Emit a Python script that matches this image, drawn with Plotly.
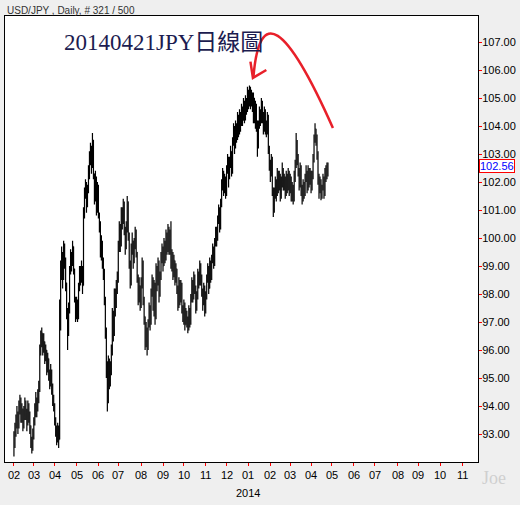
import plotly.graph_objects as go

# USD/JPY daily, trading-day index 0 = 2013-02-01
closes = [
    92.7, 93.0, 93.4, 93.7, 93.3, 93.9, 94.2, 93.7, 93.9, 93.4,
    93.6, 94.1, 93.8, 93.4, 94.0, 93.7, 93.3, 92.8, 92.5, 92.9,
    93.4, 93.8, 94.2, 93.9, 94.3, 94.6, 95.9, 96.4, 96.6, 96.1,
    96.3, 95.8, 96.0, 95.4, 95.7, 95.1, 94.8, 95.2, 94.6, 94.2,
    94.0, 93.5, 93.2, 92.9, 93.1, 92.8, 96.8, 98.9, 99.4, 98.6,
    99.6, 99.2, 98.4, 97.3, 96.6, 97.4, 98.8, 99.4, 99.1, 99.7,
    98.9, 97.8, 97.3, 97.6, 97.2, 98.2, 98.8, 98.6, 98.9, 98.3,
    100.9, 101.6, 101.9, 101.2, 101.7, 102.3, 102.9, 103.2, 102.6, 103.5,
    102.3, 101.5, 102.1, 101.0, 101.8, 100.9, 100.4, 99.5, 99.8, 99.1,
    98.7, 97.8, 96.6, 95.3, 94.2, 95.5, 94.8, 95.3, 95.9, 97.2,
    96.6, 97.9, 97.6, 98.2, 98.5, 99.7, 100.4, 99.8, 100.9, 100.6,
    101.2, 100.3, 99.7, 100.4, 101.3, 100.1, 99.1, 98.5, 99.6, 99.9,
    99.2, 99.8, 100.2, 99.5, 98.6, 97.9, 98.3, 97.6, 98.4, 99.1,
    97.8, 97.2, 96.3, 96.7, 96.1, 96.9, 97.5, 97.0, 98.0, 98.5,
    97.6, 98.3, 97.2, 98.9, 98.4, 99.1, 98.0, 98.6, 99.3, 99.6,
    99.0, 99.8, 99.3, 100.1, 99.6, 100.3, 99.5, 100.0, 99.1, 99.4,
    98.7, 99.2, 98.5, 98.9, 98.2, 97.6, 98.4, 97.8, 98.3, 97.5,
    97.2, 97.6, 96.9, 97.3, 97.1, 96.8, 97.4, 97.0, 97.8, 98.4,
    97.9, 98.6, 98.2, 97.6, 97.9, 98.7, 98.4, 99.0, 98.6, 98.1,
    97.7, 98.2, 97.5, 97.9, 98.5, 98.9, 98.2, 99.1, 98.6, 99.2,
    99.6, 99.1, 99.8, 100.2, 100.0, 100.6, 101.0, 100.4, 101.2, 101.9,
    102.3, 101.8, 102.1, 101.6, 102.4, 102.8, 102.2, 102.7, 103.1, 102.4,
    103.4, 103.9, 103.3, 104.0, 103.6, 104.3, 103.8, 104.4, 104.1, 104.6,
    104.2, 104.8, 104.3, 104.9, 104.6, 105.2, 104.9, 105.3, 104.8, 105.1,
    104.7, 105.0, 104.3, 104.7, 104.1, 103.3, 104.0, 104.5, 104.2, 104.8,
    104.4, 103.9, 104.5, 104.0, 103.8, 104.3, 103.2, 102.6, 102.3, 102.8,
    101.7, 101.1, 101.5, 102.0, 101.6, 102.3, 101.8, 102.2, 101.5, 102.0,
    102.4, 101.9, 102.1, 101.6, 102.2, 101.8, 102.3, 101.7, 102.1, 101.5,
    101.8, 101.4, 102.2, 102.6, 103.3, 102.9, 102.4, 101.9, 102.5, 101.7,
    101.4, 101.9, 101.6, 102.1, 102.3, 101.8, 102.4, 102.0, 102.3, 101.8,
    102.2, 102.8, 103.5, 103.9, 103.6, 103.0, 102.2, 101.7, 102.0, 101.5,
    101.8, 102.1, 101.6, 102.3, 102.2, 102.5, 102.56,
]
highs = [
    93.1, 93.4, 93.7, 94.0, 93.8, 94.2, 94.4, 94.3, 94.1, 93.9,
    94.0, 94.3, 94.2, 93.9, 94.2, 94.1, 93.8, 93.3, 92.9, 93.2,
    93.6, 94.1, 94.5, 94.3, 94.6, 94.9, 96.2, 96.7, 96.8, 96.6,
    96.6, 96.3, 96.2, 95.9, 95.9, 95.7, 95.3, 95.5, 95.3, 94.8,
    94.4, 94.1, 93.6, 93.3, 93.4, 93.3, 97.8, 99.2, 99.7, 99.5,
    99.9, 99.8, 99.3, 98.4, 97.5, 97.7, 99.0, 99.6, 99.5, 99.9,
    99.7, 98.9, 97.9, 97.9, 97.8, 98.4, 99.0, 99.0, 99.2, 99.0,
    101.1, 101.8, 102.1, 102.0, 101.9, 102.6, 103.1, 103.4, 103.3, 103.75,
    103.4, 102.3, 102.4, 102.2, 102.0, 101.9, 100.9, 100.6, 100.1, 99.9,
    99.3, 98.9, 97.9, 96.8, 95.6, 95.8, 95.7, 95.6, 96.2, 97.5,
    97.4, 98.2, 98.2, 98.5, 98.8, 99.9, 100.6, 100.5, 101.1, 101.1,
    101.4, 101.3, 100.4, 100.6, 101.5, 101.3, 100.2, 99.2, 99.8, 100.2,
    99.9, 100.0, 100.4, 100.3, 99.5, 98.7, 98.6, 98.3, 98.6, 99.3,
    99.2, 97.9, 97.2, 97.0, 96.8, 97.1, 97.7, 97.6, 98.2, 98.7,
    98.6, 98.5, 98.4, 99.1, 99.0, 99.3, 99.2, 98.8, 99.5, 99.8,
    99.7, 100.0, 99.9, 100.3, 100.2, 100.5, 100.4, 100.3, 100.6, 99.6,
    99.5, 99.4, 99.2, 99.1, 98.9, 98.3, 98.6, 98.5, 98.5, 98.4,
    97.6, 97.8, 97.7, 97.5, 97.4, 97.2, 97.6, 97.5, 98.0, 98.6,
    98.5, 98.8, 98.7, 98.3, 98.1, 98.9, 98.8, 99.2, 99.1, 98.7,
    98.2, 98.4, 98.3, 98.1, 98.7, 99.1, 99.0, 99.3, 99.2, 99.4,
    99.8, 99.7, 100.0, 100.4, 100.4, 100.8, 101.2, 101.1, 101.4, 102.1,
    102.5, 102.4, 102.3, 102.2, 102.6, 103.0, 102.9, 102.9, 103.3, 103.1,
    103.6, 104.1, 104.0, 104.2, 104.1, 104.5, 104.4, 104.6, 104.5, 104.8,
    104.7, 105.0, 104.9, 105.1, 105.0, 105.4, 105.3, 105.45, 105.4, 105.3,
    105.2, 105.2, 105.0, 104.9, 104.8, 104.2, 104.2, 104.7, 104.6, 105.0,
    104.9, 104.5, 104.7, 104.6, 104.2, 104.5, 104.4, 103.3, 102.8, 103.0,
    102.9, 101.8, 101.8, 102.2, 102.1, 102.5, 102.4, 102.4, 102.3, 102.2,
    102.7, 102.5, 102.3, 102.2, 102.4, 102.3, 102.5, 102.4, 102.3, 102.2,
    102.0, 101.9, 102.4, 102.8, 103.75, 103.5, 103.0, 102.5, 102.7, 102.6,
    101.9, 102.1, 102.0, 102.3, 102.6, 102.4, 102.6, 102.5, 102.5, 102.4,
    102.4, 103.0, 103.7, 104.1, 103.9, 103.7, 103.1, 102.3, 102.2, 102.1,
    101.9, 102.3, 102.2, 102.5, 102.6, 102.7, 102.7,
]
lows = [
    92.2, 92.5, 92.9, 93.2, 93.0, 93.2, 93.7, 93.4, 93.4, 93.1,
    93.2, 93.5, 93.5, 93.1, 93.3, 93.4, 93.0, 92.5, 92.3, 92.4,
    92.8, 93.3, 93.6, 93.6, 93.8, 94.1, 94.5, 95.8, 96.1, 95.8,
    95.9, 95.5, 95.6, 95.1, 95.2, 94.9, 94.6, 94.7, 94.4, 94.0,
    93.8, 93.3, 92.9, 92.6, 92.7, 92.5, 92.8, 96.7, 98.5, 98.2,
    98.5, 98.9, 98.1, 97.1, 96.0, 96.5, 97.3, 98.7, 98.8, 99.0,
    98.7, 97.7, 97.0, 97.1, 97.0, 97.1, 98.1, 98.3, 98.4, 98.0,
    99.1, 100.7, 101.4, 100.9, 101.1, 101.6, 102.1, 102.6, 102.3, 102.5,
    102.1, 101.2, 101.3, 100.8, 100.9, 100.7, 100.2, 99.3, 99.2, 98.9,
    98.5, 97.6, 96.4, 95.0, 93.8, 94.1, 94.6, 94.7, 95.1, 95.8,
    96.3, 96.5, 97.2, 97.5, 98.0, 98.4, 99.5, 99.5, 99.7, 100.3,
    100.5, 100.1, 99.4, 99.6, 100.2, 99.9, 98.9, 98.2, 98.3, 99.4,
    98.9, 99.1, 99.6, 99.3, 98.4, 97.6, 97.7, 97.4, 97.5, 98.2,
    97.6, 96.9, 96.0, 96.1, 95.8, 96.0, 96.8, 96.7, 96.9, 97.9,
    97.4, 97.2, 96.9, 97.1, 98.1, 98.3, 97.7, 97.9, 98.5, 99.1,
    98.8, 99.1, 99.1, 99.2, 99.4, 99.5, 99.4, 99.4, 98.9, 98.8,
    98.5, 98.6, 98.3, 98.4, 98.0, 97.4, 97.5, 97.6, 97.7, 97.3,
    97.0, 96.9, 96.7, 96.9, 96.8, 96.6, 96.7, 96.8, 96.9, 97.7,
    97.7, 97.8, 98.0, 97.3, 97.4, 97.8, 98.2, 98.3, 98.3, 97.9,
    97.4, 97.6, 97.2, 97.3, 97.8, 98.4, 98.0, 98.2, 98.4, 98.5,
    99.1, 98.9, 99.0, 99.7, 99.7, 99.9, 100.5, 100.2, 100.3, 101.1,
    101.7, 101.5, 101.6, 101.4, 101.5, 102.3, 101.8, 102.1, 102.5, 102.2,
    102.3, 103.3, 103.0, 103.2, 103.4, 103.5, 103.6, 103.7, 103.8, 104.0,
    104.0, 104.2, 104.1, 104.2, 104.4, 104.5, 104.6, 104.7, 104.6, 104.7,
    104.5, 104.1, 104.1, 103.9, 103.8, 102.9, 103.2, 103.9, 104.0, 104.1,
    104.1, 103.7, 103.8, 103.7, 103.6, 103.7, 103.0, 102.4, 102.0, 102.2,
    101.5, 100.75, 100.9, 101.4, 101.3, 101.5, 101.6, 101.7, 101.3, 101.4,
    101.8, 101.7, 101.7, 101.4, 101.5, 101.6, 101.7, 101.5, 101.6, 101.3,
    101.3, 101.2, 101.3, 102.0, 102.5, 102.6, 102.2, 101.7, 101.8, 101.5,
    101.2, 101.3, 101.4, 101.5, 102.0, 101.6, 101.7, 101.8, 101.9, 101.6,
    101.7, 102.1, 102.7, 103.4, 103.3, 102.8, 101.9, 101.4, 101.6, 101.35,
    101.4, 101.7, 101.4, 101.5, 102.0, 102.1, 102.2,
]

month_labels = ["02", "03", "04", "05", "06", "07", "08", "09", "10", "11", "12",
                "01", "02", "03", "04", "05", "06", "07", "08", "09", "10", "11"]
month_starts = [0, 20, 41, 63, 85, 105, 128, 150, 171, 193, 214,
                236, 258, 278, 299, 320, 342, 363, 386, 407, 429, 451]
price_ticks = list(range(93, 108))
last_price = 102.56

n = len(closes)
x = list(range(n))
opens = [closes[0]] + closes[:-1]
hi = [max(h, o, c) for h, o, c in zip(highs, opens, closes)]
lo = [min(l, o, c) for l, o, c in zip(lows, opens, closes)]

fig = go.Figure(go.Ohlc(
    x=x, open=opens, high=hi, low=lo, close=closes,
    increasing_line_color="black", decreasing_line_color="black",
    line_width=1.2, tickwidth=0.45, hoverinfo="skip",
))

# hand-drawn red arrow
fig.add_shape(type="path", path="M 321,103.93 Q 250,109.6 241,105.75",
              line=dict(color="#e8202a", width=2.5), xref="x", yref="y")
fig.add_shape(type="path", path="M 238,106.3 L 240.5,105.72 L 254,106.0",
              line=dict(color="#e8202a", width=2.5), xref="x", yref="y")

# month labels drawn close under the axis like the original
annots = [dict(text=t, x=m, xref="x", y=0, yref="paper", yshift=-5,
               yanchor="top", showarrow=False, font=dict(size=11))
          for t, m in zip(month_labels, month_starts)]

fig.update_layout(
    width=520, height=505,
    margin=dict(l=4, r=40, t=16, b=43),
    paper_bgcolor="#efefef", plot_bgcolor="white",
    showlegend=False,
    font=dict(family="Liberation Sans, Arial", size=11, color="black"),
    xaxis=dict(range=[-9, 467], rangeslider_visible=False, showgrid=False,
               zeroline=False, tickmode="array", tickvals=month_starts,
               ticktext=["" for _ in month_starts], ticks="outside", ticklen=3,
               tickcolor="red", showline=True, linecolor="black", mirror=True,
               fixedrange=True),
    yaxis=dict(range=[92.0, 107.93], side="right", showgrid=False, zeroline=False,
               tickmode="array", tickvals=price_ticks,
               ticktext=["%.2f" % v for v in price_ticks],
               ticks="outside", ticklen=3, tickcolor="red",
               tickfont=dict(size=11), ticklabelstandoff=-2,
               showline=True, linecolor="black", mirror=True),
    annotations=annots + [
        dict(text="USD/JPY , Daily, # 321 / 500", xref="paper", yref="paper",
             x=0, y=1, xanchor="left", yanchor="bottom", yshift=-2,
             showarrow=False, font=dict(size=10, color="#333")),
        dict(text="20140421JPY日線圖", xref="paper", yref="paper",
             x=0.121, y=0.94, xanchor="left", yanchor="middle", showarrow=False,
             font=dict(family="Liberation Serif, Noto Sans CJK TC", size=23,
                       color="#1c1c50")),
        dict(text="2014", x=236, xref="x", yref="paper", y=0, yshift=-23,
             yanchor="top", showarrow=False, font=dict(size=11)),
        dict(text="%.2f" % last_price, x=1, xref="paper", y=last_price, yref="y",
             xanchor="left", xshift=1, showarrow=False, bgcolor="white",
             bordercolor="red", borderwidth=1, borderpad=0,
             font=dict(size=11, color="blue")),
        dict(text="Joe", x=1, xref="paper", y=0, yref="paper", xanchor="left",
             yanchor="top", xshift=2, yshift=-4, showarrow=False,
             font=dict(family="Liberation Serif", size=18, color="#cfcfcf")),
    ],
)

fig.write_html("out.html", config={"displayModeBar": False},
               post_script="document.body.style.margin='0';")
